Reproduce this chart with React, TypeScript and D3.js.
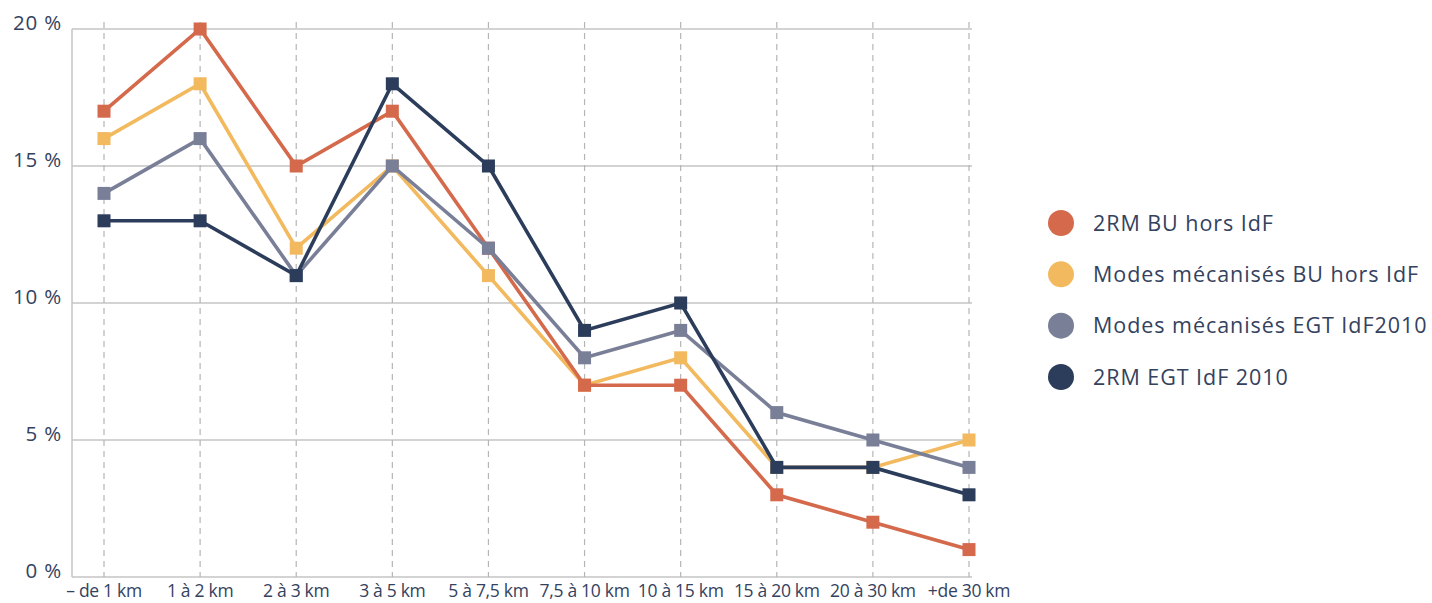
import React, { useEffect, useRef } from 'react';
import * as d3 from 'd3';

const categories = ['– de 1 km', '1 à 2 km', '2 à 3 km', '3 à 5 km', '5 à 7,5 km', '7,5 à 10 km', '10 à 15 km', '15 à 20 km', '20 à 30 km', '+de 30 km'];
const seriesNames = ['2RM BU hors IdF', 'Modes mécanisés BU hors IdF', 'Modes mécanisés EGT IdF2010', '2RM EGT IdF 2010'];
const rmBu = [17, 20, 15, 17, 12, 7, 7, 3, 2, 1];
const mecaBu = [16, 18, 12, 15, 11, 7, 8, 4, 4, 5];
const mecaEgt = [14, 16, 11, 15, 12, 8, 9, 6, 5, 4];
const rmEgt = [13, 13, 11, 18, 15, 9, 10, 4, 4, 3];
const yTicks = [0, 5, 10, 15, 20];
const colors = ['#d4694c', '#f2b95e', '#7a7f98', '#2c3d5b'];

const W = 1432;
const H = 603;
const textColor = '#34425e';
const font = '"Open Sans", sans-serif';

export default function App() {
  const ref = useRef<SVGSVGElement>(null);

  useEffect(() => {
    const svg = d3.select(ref.current);
    svg.selectAll('*').remove();

    const x = d3.scalePoint<string>().domain(categories).range([104, 969]);
    const y = d3.scaleLinear().domain([0, 20]).range([577, 29]);
    const left = 72, right = 972;

    // horizontal grid
    svg.append('g').selectAll('line').data(yTicks).join('line')
      .attr('x1', left).attr('x2', right)
      .attr('y1', d => y(d)).attr('y2', d => y(d))
      .attr('stroke', '#c4c4c4').attr('stroke-width', 1.5);

    // vertical dashed lines
    svg.append('g').selectAll('line').data(categories).join('line')
      .attr('x1', d => x(d)!).attr('x2', d => x(d)!)
      .attr('y1', 22).attr('y2', y(0))
      .attr('stroke', '#b5b5b5').attr('stroke-width', 1.2)
      .attr('stroke-dasharray', '6,5');

    // left axis line
    svg.append('line').attr('x1', left).attr('x2', left).attr('y1', y(20)).attr('y2', y(0))
      .attr('stroke', '#c4c4c4').attr('stroke-width', 1.5);

    // y labels
    svg.append('g').selectAll('text').data(yTicks).join('text')
      .attr('x', 62).attr('y', d => y(d) + 1)
      .attr('text-anchor', 'end')
      .attr('font-family', font).attr('font-size', 20.5).attr('fill', textColor)
      .attr('letter-spacing', 0.8)
      .text(d => `${d} %`);

    // x labels
    svg.append('g').selectAll('text').data(categories).join('text')
      .attr('x', d => x(d)!).attr('y', 597)
      .attr('text-anchor', 'middle')
      .attr('font-family', font).attr('font-size', 17.5).attr('fill', textColor)
      .attr('letter-spacing', -0.3)
      .text(d => d);

    const allSeries = [rmBu, mecaBu, mecaEgt, rmEgt];
    const line = d3.line<number>().x((_, i) => x(categories[i])!).y(d => y(d));
    // bottom to top: yellow, red, gray, navy
    const drawOrder = [1, 0, 2, 3];
    drawOrder.forEach(si => {
      const vals = allSeries[si];
      const g = svg.append('g');
      g.append('path').attr('d', line(vals)).attr('fill', 'none')
        .attr('stroke', colors[si]).attr('stroke-width', 3.6);
      g.selectAll('rect').data(vals).join('rect')
        .attr('x', (_, i) => x(categories[i])! - 6.5)
        .attr('y', d => y(d) - 6.5)
        .attr('width', 13).attr('height', 13)
        .attr('fill', colors[si]);
    });

    // legend
    const lg = svg.append('g');
    const ly = d3.scalePoint<string>().domain(seriesNames).range([223, 377]);
    lg.selectAll('circle').data(seriesNames).join('circle')
      .attr('cx', 1061).attr('cy', d => ly(d)!).attr('r', 13)
      .attr('fill', (_, i) => colors[i]);
    lg.selectAll('text').data(seriesNames).join('text')
      .attr('x', 1093).attr('y', d => ly(d)! + 7.5)
      .attr('font-family', font).attr('font-size', 21.5).attr('fill', textColor)
      .attr('letter-spacing', 0.95)
      .text(d => d);
  }, []);

  return (
    <svg ref={ref} width={W} height={H}
      style={{ position: 'absolute', left: 0, top: 0, background: '#fff' }} />
  );
}
